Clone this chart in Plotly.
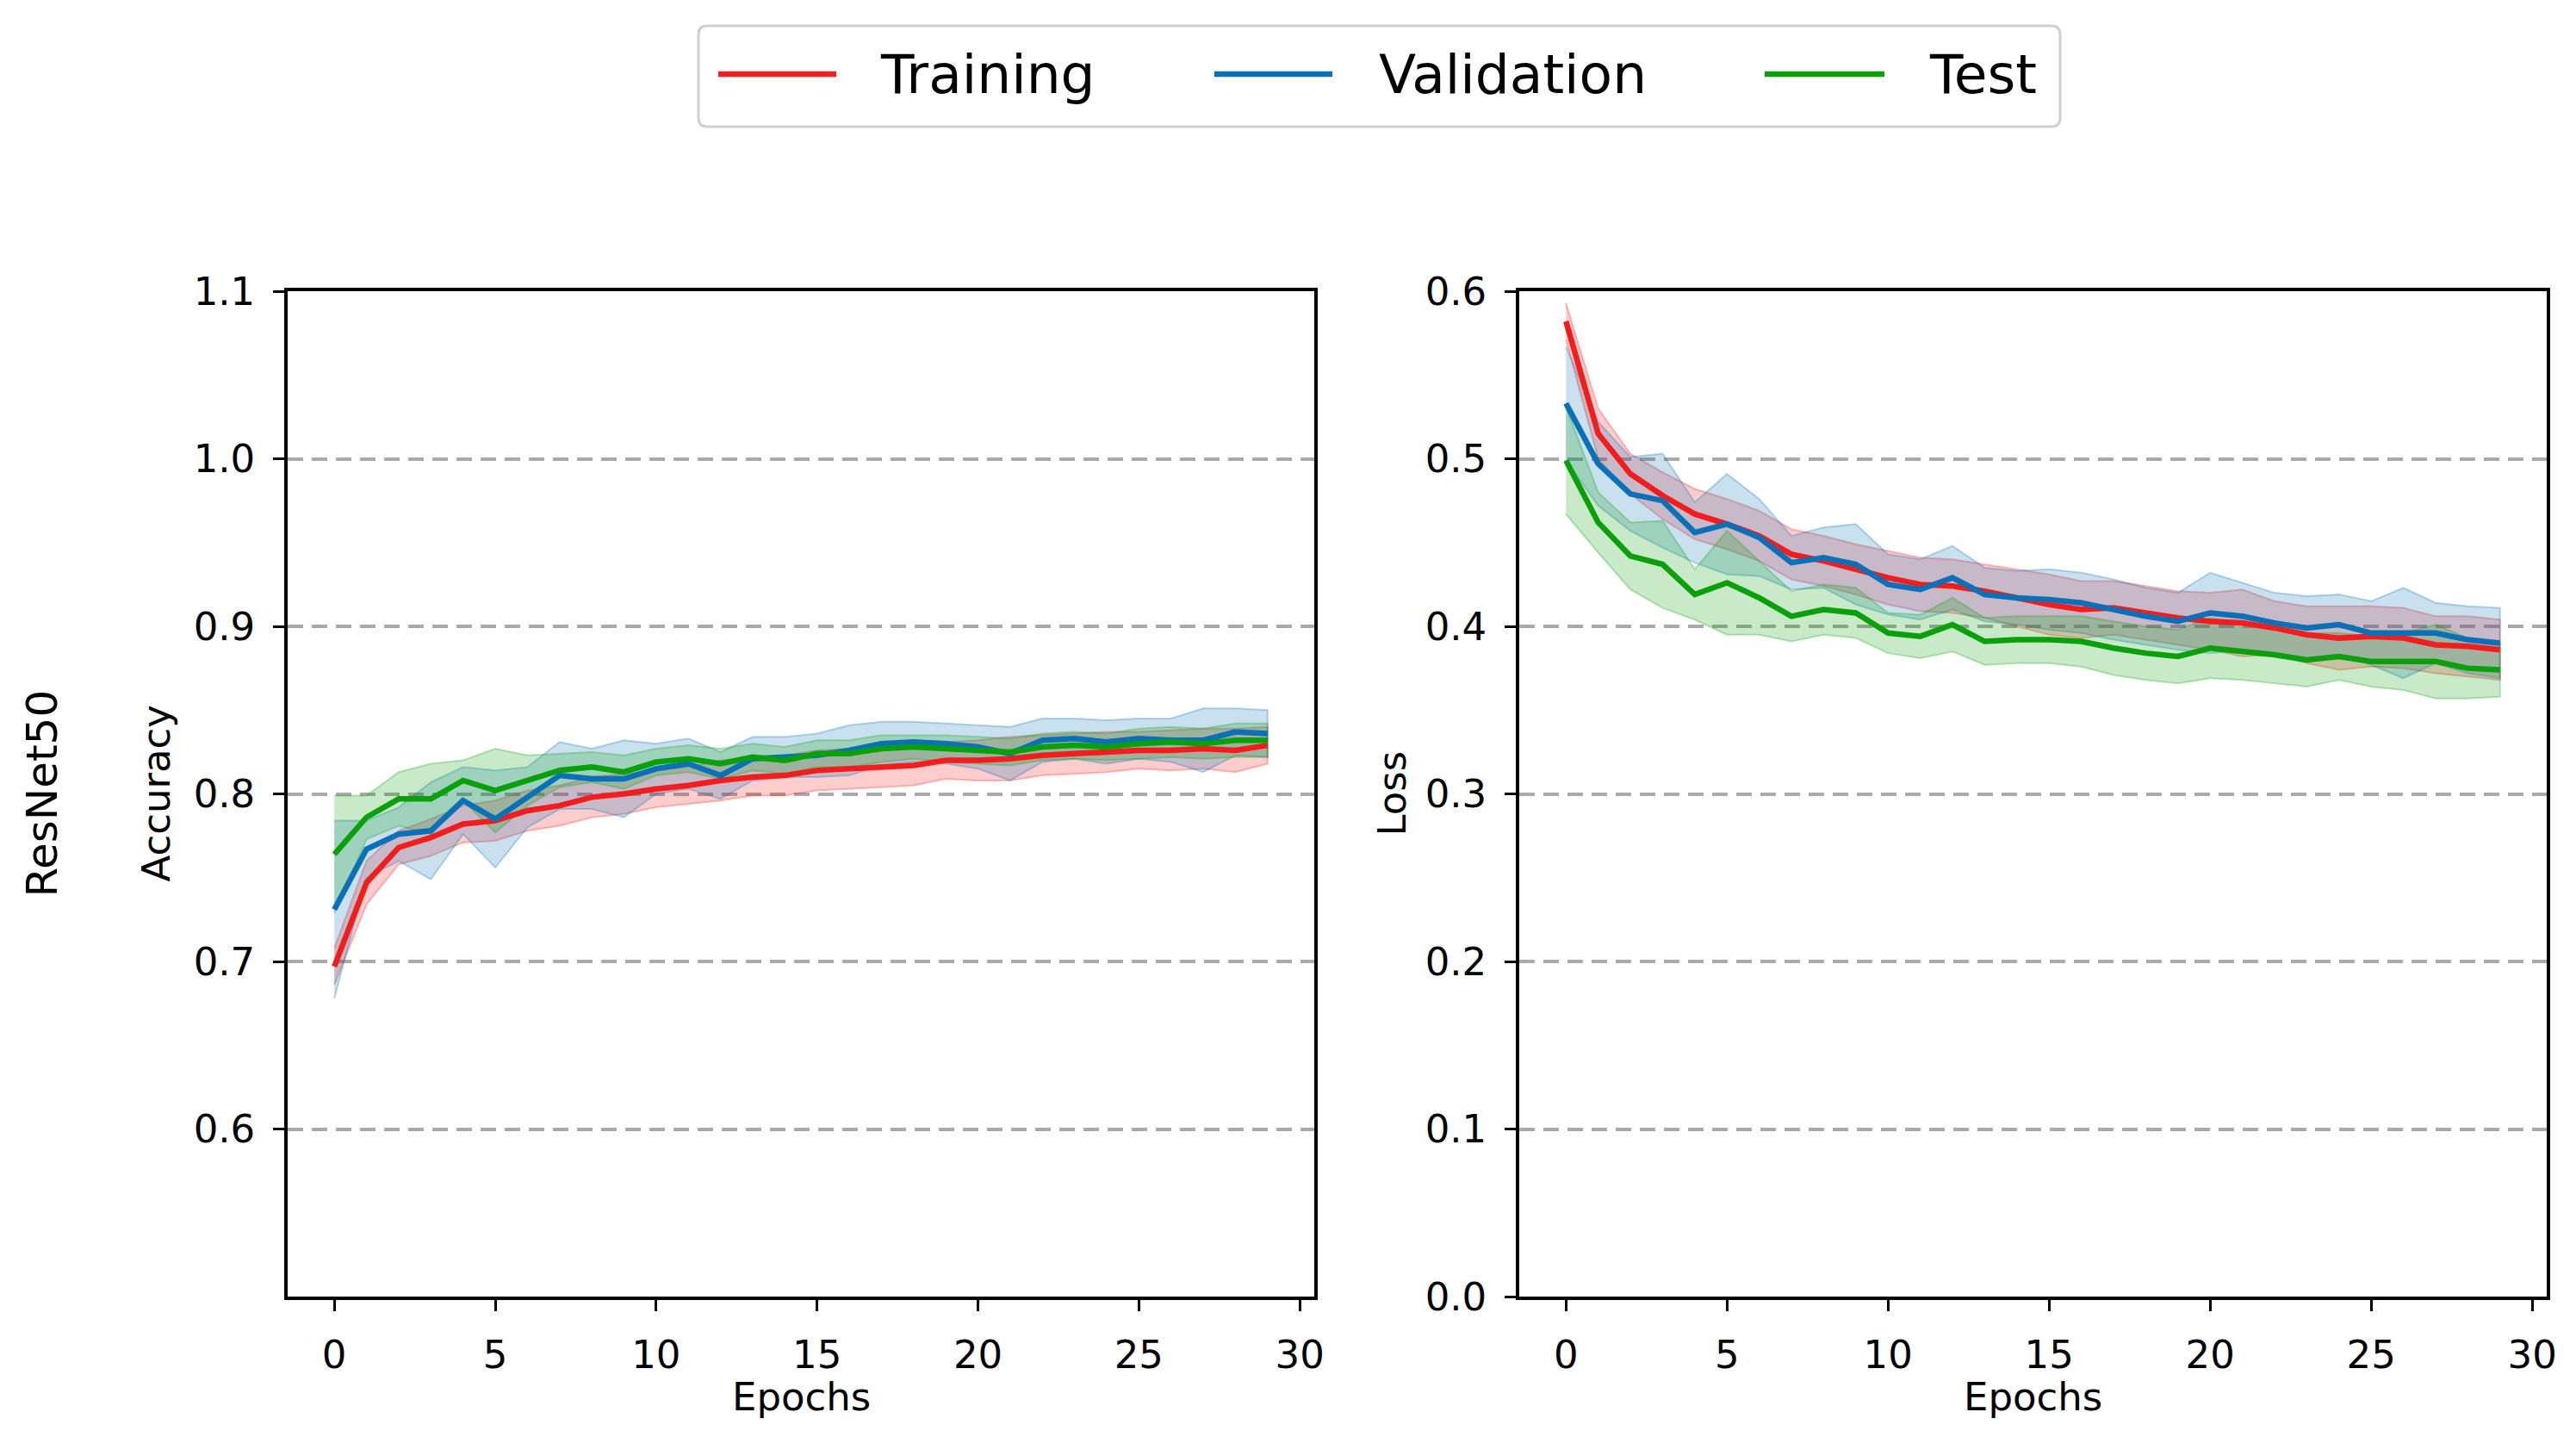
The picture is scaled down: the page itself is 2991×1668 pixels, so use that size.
import plotly.graph_objects as go

# epochs and per-epoch mean / std
epochs = list(range(30))

acc_train = [0.697, 0.747, 0.768, 0.774, 0.782, 0.784, 0.790, 0.793, 0.798, 0.800,
             0.803, 0.805, 0.808, 0.810, 0.811, 0.814, 0.815, 0.816, 0.817, 0.820,
             0.820, 0.821, 0.823, 0.824, 0.825, 0.826, 0.826, 0.827, 0.826, 0.829]
acc_val = [0.731, 0.767, 0.776, 0.778, 0.796, 0.785, 0.798, 0.811, 0.809, 0.809,
           0.815, 0.818, 0.811, 0.821, 0.822, 0.823, 0.826, 0.830, 0.831, 0.830,
           0.828, 0.824, 0.832, 0.833, 0.831, 0.833, 0.832, 0.832, 0.837, 0.836]
acc_test = [0.764, 0.786, 0.797, 0.797, 0.808, 0.802, 0.808, 0.814, 0.816, 0.813,
            0.819, 0.821, 0.818, 0.822, 0.820, 0.824, 0.824, 0.827, 0.828, 0.827,
            0.826, 0.825, 0.828, 0.829, 0.828, 0.830, 0.831, 0.830, 0.832, 0.832]

acc_train_std = [0.011, 0.013, 0.010, 0.011, 0.011, 0.012, 0.012, 0.012, 0.012, 0.012,
                 0.011, 0.011, 0.012, 0.011, 0.012, 0.012, 0.012, 0.012, 0.012, 0.011,
                 0.012, 0.013, 0.012, 0.012, 0.012, 0.011, 0.012, 0.012, 0.013, 0.011]
acc_val_std = [0.053, 0.017, 0.016, 0.029, 0.020, 0.029, 0.018, 0.020, 0.018, 0.023,
               0.015, 0.015, 0.014, 0.013, 0.012, 0.013, 0.015, 0.013, 0.012, 0.012,
               0.013, 0.016, 0.013, 0.012, 0.013, 0.012, 0.013, 0.019, 0.014, 0.014]
acc_test_std = [0.035, 0.013, 0.016, 0.021, 0.012, 0.025, 0.015, 0.010, 0.009, 0.010,
                0.008, 0.008, 0.009, 0.008, 0.008, 0.008, 0.008, 0.008, 0.007, 0.008,
                0.008, 0.008, 0.008, 0.008, 0.008, 0.009, 0.009, 0.009, 0.010, 0.010]

loss_train = [0.582, 0.515, 0.491, 0.478, 0.467, 0.461, 0.454, 0.443, 0.439, 0.434,
              0.429, 0.425, 0.424, 0.421, 0.417, 0.413, 0.410, 0.411, 0.408, 0.405,
              0.403, 0.402, 0.399, 0.395, 0.393, 0.394, 0.393, 0.389, 0.388, 0.386]
loss_val = [0.533, 0.497, 0.479, 0.475, 0.456, 0.461, 0.453, 0.438, 0.441, 0.437,
            0.425, 0.422, 0.429, 0.419, 0.417, 0.416, 0.414, 0.410, 0.406, 0.403,
            0.408, 0.406, 0.402, 0.399, 0.401, 0.396, 0.396, 0.396, 0.392, 0.390]
loss_test = [0.499, 0.462, 0.442, 0.437, 0.419, 0.426, 0.417, 0.406, 0.410, 0.408,
             0.396, 0.394, 0.401, 0.391, 0.392, 0.392, 0.391, 0.387, 0.384, 0.382,
             0.387, 0.385, 0.383, 0.380, 0.382, 0.379, 0.379, 0.379, 0.375, 0.374]

loss_train_std = [0.011, 0.015, 0.012, 0.014, 0.015, 0.015, 0.015, 0.015, 0.015, 0.015,
                  0.016, 0.016, 0.016, 0.016, 0.017, 0.018, 0.017, 0.016, 0.016, 0.016,
                  0.017, 0.020, 0.016, 0.017, 0.019, 0.018, 0.018, 0.017, 0.018, 0.018]
loss_val_std = [0.034, 0.025, 0.022, 0.028, 0.018, 0.030, 0.023, 0.016, 0.018, 0.024,
                0.018, 0.018, 0.019, 0.016, 0.016, 0.018, 0.018, 0.018, 0.017, 0.017,
                0.024, 0.020, 0.018, 0.019, 0.018, 0.019, 0.027, 0.018, 0.020, 0.021]
loss_test_std = [0.032, 0.018, 0.020, 0.026, 0.015, 0.031, 0.022, 0.015, 0.015, 0.015,
                 0.012, 0.013, 0.016, 0.014, 0.014, 0.014, 0.015, 0.016, 0.016, 0.016,
                 0.018, 0.017, 0.017, 0.016, 0.014, 0.015, 0.017, 0.022, 0.018, 0.016]

series_names = ["Training", "Validation", "Test"]
line_colors = ["#f41d1d", "#0a70b8", "#0aa00a"]
rgb = [(244, 29, 29), (10, 112, 184), (10, 160, 10)]

FONT = "DejaVu Sans"
W, H = 2991, 1668

fig = go.Figure()

panels = [
    ("x", "y", [acc_train, acc_val, acc_test], [acc_train_std, acc_val_std, acc_test_std]),
    ("x2", "y2", [loss_train, loss_val, loss_test], [loss_train_std, loss_val_std, loss_test_std]),
]

for xa, ya, means, stds in panels:
    # shaded bands first, lines on top
    for m, s, c in zip(means, stds, rgb):
        upper = [a + b for a, b in zip(m, s)]
        lower = [a - b for a, b in zip(m, s)]
        fig.add_trace(go.Scatter(
            x=epochs + epochs[::-1], y=upper + lower[::-1],
            xaxis=xa, yaxis=ya, mode="lines", fill="toself",
            fillcolor=f"rgba({c[0]},{c[1]},{c[2]},0.22)",
            line=dict(color=f"rgba({c[0]},{c[1]},{c[2]},0.28)", width=2),
            showlegend=False, hoverinfo="skip"))
    for m, name, col in zip(means, series_names, line_colors):
        fig.add_trace(go.Scatter(
            x=epochs, y=m, xaxis=xa, yaxis=ya, mode="lines", name=name,
            line=dict(color=col, width=6.5), showlegend=False))

axis_common = dict(
    showline=True, mirror=True, linecolor="black", linewidth=3.5,
    ticks="outside", ticklen=13, tickwidth=3, tickcolor="black",
    tickfont=dict(family=FONT, size=45, color="black"),
    zeroline=False, automargin=False,
)

# page body adds ~8px, so positions are shifted back by that much
x_dom1 = [326 / W, 1518 / W]
x_dom2 = [1756 / W, 2949 / W]
y_dom = [1 - 1497 / H, 1 - 330 / H]

fig.update_layout(
    width=W, height=H,
    margin=dict(l=0, r=0, t=0, b=0),
    paper_bgcolor="white", plot_bgcolor="white",
    font=dict(family=FONT, color="black"),
    xaxis=dict(domain=x_dom1, range=[-1.45, 30.45], tickvals=[0, 5, 10, 15, 20, 25, 30],
               showgrid=False, ticklabelstandoff=12, anchor="y", **axis_common),
    yaxis=dict(domain=y_dom, range=[0.5, 1.1], tickvals=[0.6, 0.7, 0.8, 0.9, 1.0, 1.1],
               tickformat=".1f", showgrid=True, gridcolor="#aaaaaa", gridwidth=3.5,
               griddash="18px,10px", ticklabelstandoff=12, anchor="x", **axis_common),
    xaxis2=dict(domain=x_dom2, range=[-1.45, 30.45], tickvals=[0, 5, 10, 15, 20, 25, 30],
                showgrid=False, ticklabelstandoff=12, anchor="y2", **axis_common),
    yaxis2=dict(domain=y_dom, range=[0.0, 0.6], tickvals=[0.0, 0.1, 0.2, 0.3, 0.4, 0.5, 0.6],
                tickformat=".1f", showgrid=True, gridcolor="#aaaaaa", gridwidth=3.5,
                griddash="18px,10px", ticklabelstandoff=12, anchor="x2", **axis_common),
)

y_mid = (y_dom[0] + y_dom[1]) / 2
annos = [
    dict(text="Accuracy", x=173 / W, y=y_mid, textangle=-90, font_size=45),
    dict(text="Loss", x=1608 / W, y=y_mid, textangle=-90, font_size=45),
    dict(text="Epochs", x=sum(x_dom1) / 2, y=1 - 1613 / H, font_size=45),
    dict(text="Epochs", x=sum(x_dom2) / 2, y=1 - 1613 / H, font_size=45),
    dict(text="ResNet50", x=40 / W, y=y_mid, textangle=-90, font_size=50),
]
for a in annos:
    fig.add_annotation(xref="paper", yref="paper", showarrow=False,
                       xanchor="center", yanchor="middle",
                       font=dict(family=FONT, color="black", size=a.pop("font_size")), **a)

# legend drawn as a framed row above the panels
lx0, lx1, ly0, ly1 = 803 / W, 2384 / W, 1 - 139 / H, 1 - 22 / H
rx, ry = 10 / W, 10 / H
box = (f"M {lx0 + rx},{ly1} L {lx1 - rx},{ly1} Q {lx1},{ly1} {lx1},{ly1 - ry} "
       f"L {lx1},{ly0 + ry} Q {lx1},{ly0} {lx1 - rx},{ly0} L {lx0 + rx},{ly0} "
       f"Q {lx0},{ly0} {lx0},{ly0 + ry} L {lx0},{ly1 - ry} Q {lx0},{ly1} {lx0 + rx},{ly1} Z")
fig.add_shape(type="path", path=box, xref="paper", yref="paper",
              line=dict(color="#d0d0d0", width=3), fillcolor="white")

leg_y = 1 - 78 / H
leg_items = [(826, 963, 1012), (1402, 1539, 1591), (2041, 2180, 2230)]
for (sx0, sx1, tx), name, col in zip(leg_items, series_names, line_colors):
    fig.add_shape(type="line", xref="paper", yref="paper",
                  x0=sx0 / W, x1=sx1 / W, y0=leg_y, y1=leg_y,
                  line=dict(color=col, width=6.5))
    fig.add_annotation(xref="paper", yref="paper", x=tx / W, y=leg_y, text=name,
                       showarrow=False, xanchor="left", yanchor="middle",
                       font=dict(family=FONT, size=63, color="black"))

fig.write_html("out.html")
